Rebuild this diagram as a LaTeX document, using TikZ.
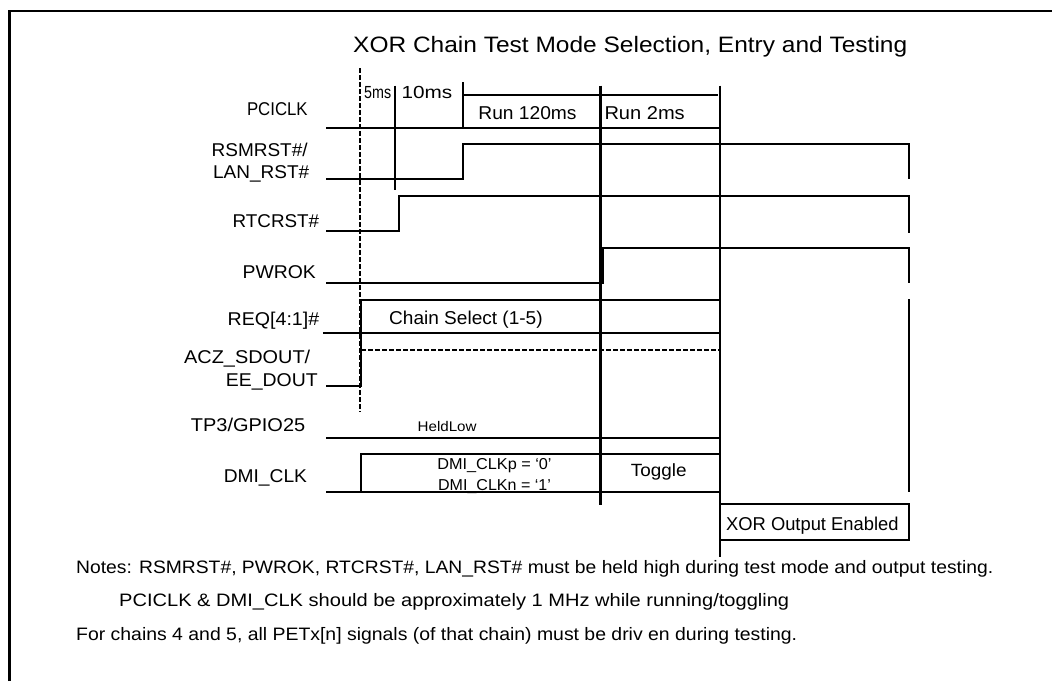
\documentclass[tikz,border=0pt]{standalone}
\usepackage{fontspec}
\setmainfont{Liberation Sans}
\usepackage{graphicx}
\newcommand{\fitw}[2]{\resizebox{#1pt}{\height}{#2}}
\begin{document}
\begin{tikzpicture}[x=1pt,y=-1pt,
  sig/.style={line width=2pt},
  bold/.style={line width=2.3pt},
  dashv/.style={line width=2pt, dash pattern=on 4.5pt off 2.5pt},
  frame/.style={line width=2.6pt},
  txt/.style={inner sep=0pt, anchor=base west},
  lbl/.style={txt, font=\fontsize{18.5}{20}\selectfont},
  small/.style={txt, font=\fontsize{17.5}{19}\selectfont},
  mid/.style={txt, font=\fontsize{18.6}{20}\selectfont},
  note/.style={txt, font=\fontsize{18}{20}\selectfont}]
\useasboundingbox (0,0) rectangle (1052,681);
% frame
\draw[frame] (9.7,681) -- (9.7,11) -- (1052,11);
% title
\node[txt, font=\fontsize{22.3}{24}\selectfont] (title) at (353,52.7) {\fitw{554}{XOR Chain Test Mode Selection, Entry and Testing}};
% signal labels
\node[lbl] (lpci) at (246.8,115) {\fitw{60.7}{PCICLK}};
\node[lbl] (lrsm) at (211.4,156.7) {\fitw{96.1}{RSMRST\#/}};
\node[lbl] (llan) at (212.9,178.5) {\fitw{96.1}{LAN\_RST\#}};
\node[lbl] (lrtc) at (232.5,227.4) {\fitw{86.5}{RTCRST\#}};
\node[lbl] (lpwr) at (242.5,278.3) {\fitw{73.2}{PWROK}};
\node[lbl] (lreq) at (227.5,325) {\fitw{91.5}{REQ[4:1]\#}};
\node[lbl] (lacz) at (184,363.3) {\fitw{126}{ACZ\_SDOUT/}};
\node[lbl] (lee) at (225.7,386) {\fitw{91.8}{EE\_DOUT}};
\node[lbl] (ltp) at (190.7,431.7) {\fitw{114.3}{TP3/GPIO25}};
\node[lbl] (ldmi) at (223.6,482.7) {\fitw{83.2}{DMI\_CLK}};
% timing marks
\draw[dashv] (360.4,68.3) -- (360.4,411.7);
\draw[sig] (394.6,85.7) -- (394.6,190);
\draw[sig] (463,82.3) -- (463,127.7);
\draw[bold] (600.4,85.7) -- (600.4,505);
\draw[bold] (720,85.7) -- (720,557);
% PCICLK
\draw[sig] (326.4,127.7) -- (720,127.7);
\draw[sig] (463,95) -- (717.5,95);
% RSMRST / LAN_RST
\draw[sig] (326.4,179) -- (463,179) -- (463,144.3) -- (909,144.3) -- (909,179.3);
% RTCRST
\draw[sig] (326.4,231) -- (398.6,231) -- (398.6,195.7) -- (909,195.7) -- (909,232.7);
% PWROK
\draw[sig] (326.4,282.7) -- (602.5,282.7) -- (602.5,248.3) -- (909,248.3) -- (909,283);
% REQ
\draw[sig] (322.9,332.7) -- (720,332.7);
\draw[sig] (361.4,332.7) -- (361.4,300) -- (720,300);
% ACZ_SDOUT
\draw[sig] (326.4,385.7) -- (361.4,385.7) -- (361.4,332.7);
\draw[dashv] (361.4,350) -- (720,350);
\draw[sig] (909,299.3) -- (909,491.7);
% TP3
\draw[sig] (326.4,437.7) -- (720,437.7);
% DMI_CLK
\draw[sig] (326.4,492.3) -- (720,492.3);
\draw[sig] (361.4,492.3) -- (361.4,454.3) -- (720,454.3);
% XOR box
\draw[sig] (720,504.3) -- (909,504.3) -- (909,540) -- (720,540);
% texts in diagram
\node[small] (t5) at (364,98.3) {\fitw{27}{5ms}};
\node[small] (t10) at (401.4,98.3) {\fitw{50.7}{10ms}};
\node[mid] (run1) at (478.2,119.3) {\fitw{98.2}{Run 120ms}};
\node[mid] (run2) at (604.3,119.3) {\fitw{80.3}{Run 2ms}};
\node[mid] (chain) at (389,324) {\fitw{153.5}{Chain Select (1-5)}};
\node[txt, font=\fontsize{14}{16}\selectfont] (held) at (417.5,431.7) {\fitw{58.9}{HeldLow}};
\node[txt, font=\fontsize{15.8}{17}\selectfont] (dmip) at (437.1,469) {\fitw{114.3}{DMI\_CLKp = ‘0’}};
\node[txt, font=\fontsize{15.8}{17}\selectfont] (dmin) at (437.9,490.7) {\fitw{112.8}{DMI\_CLKn = ‘1’}};
\node[txt, font=\fontsize{17.7}{19}\selectfont] (tog) at (630.7,476) {\fitw{55.7}{Toggle}};
\node[mid] (xor) at (726,530.7) {\fitw{172.3}{XOR Output Enabled}};
% notes
\node[note] (n1) at (76,573.3) {\fitw{917}{Notes: RSMRST\#, PWROK, RTCRST\#, LAN\_RST\# must be held high during test mode and output testing.}};
\node[note] (n2) at (119,606.7) {\fitw{670}{PCICLK \& DMI\_CLK should be approximately 1 MHz while running/toggling}};
\node[note] (n3) at (76,640) {\fitw{721}{For chains 4 and 5, all PETx[n] signals (of that chain) must be driv en during testing.}};
\end{tikzpicture}
\end{document}
